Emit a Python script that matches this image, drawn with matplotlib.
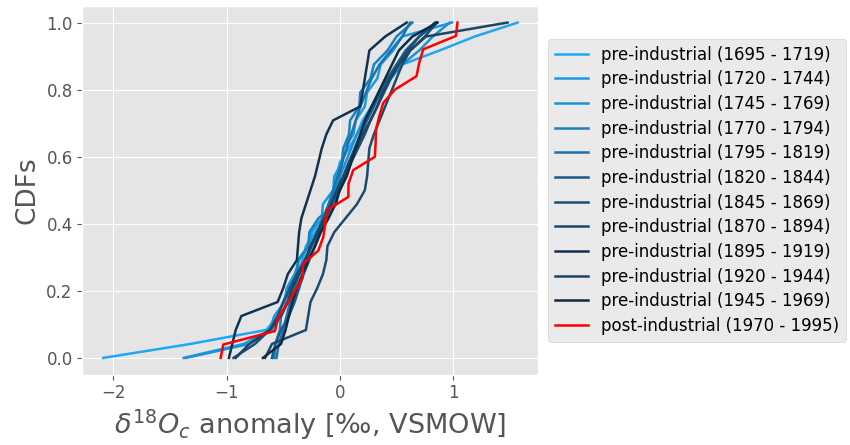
import matplotlib
matplotlib.use("Agg")
import matplotlib.pyplot as plt
from matplotlib.ticker import MultipleLocator
import numpy as np

plt.style.use("ggplot")

# periods and sorted anomaly values
periods = ["1695 - 1719", "1720 - 1744", "1745 - 1769", "1770 - 1794",
           "1795 - 1819", "1820 - 1844", "1845 - 1869", "1870 - 1894",
           "1895 - 1919", "1920 - 1944", "1945 - 1969"]
post_period = "1970 - 1995"

pre_colors = ["#1ea7f2", "#1b9ae0", "#1a92d6", "#1a80c0", "#1a72ae",
              "#1a5a88", "#18507a", "#1c4a6e", "#113350", "#1a4664", "#0c2b45"]

s1695 = [-2.09, -1.32, -0.65, -0.55, -0.50, -0.45, -0.38, -0.33, -0.30, -0.22, -0.13, -0.10,
         -0.05, -0.03, 0.00, 0.08, 0.15, 0.20, 0.28, 0.35, 0.42, 0.55, 0.88, 1.19, 1.57]
s1720 = [-1.38, -0.85, -0.62, -0.58, -0.49, -0.47, -0.40, -0.36, -0.27, -0.25, -0.16, -0.15,
         -0.06, -0.05, 0.02, 0.03, 0.12, 0.14, 0.22, 0.24, 0.33, 0.36, 0.47, 0.55, 0.99]
s1745 = [-1.36, -0.80, -0.60, -0.52, -0.47, -0.42, -0.36, -0.30, -0.25, -0.18, -0.14, -0.09,
         -0.04, 0.00, 0.05, 0.10, 0.15, 0.22, 0.28, 0.36, 0.45, 0.55, 0.70, 0.82, 0.97]
s1770 = [-0.58, -0.57, -0.53, -0.52, -0.46, -0.45, -0.38, -0.37, -0.28, -0.27, -0.19, -0.03,
         -0.02, 0.00, 0.02, 0.03, 0.08, 0.09, 0.17, 0.18, 0.27, 0.30, 0.42, 0.50, 0.64]
s1795 = [-0.56, -0.54, -0.50, -0.47, -0.44, -0.40, -0.36, -0.31, -0.26, -0.20, -0.15, -0.10,
         -0.06, -0.02, 0.02, 0.06, 0.10, 0.14, 0.18, 0.23, 0.28, 0.35, 0.45, 0.55, 0.62]
s1820 = [-0.60, -0.57, -0.52, -0.45, -0.40, -0.36, -0.32, -0.27, -0.22, -0.17, -0.12, -0.07,
         -0.02, 0.03, 0.08, 0.13, 0.18, 0.24, 0.30, 0.36, 0.42, 0.50, 0.58, 0.70, 0.86]
s1845 = [-0.94, -0.75, -0.62, -0.55, -0.50, -0.44, -0.38, -0.31, -0.25, -0.19, -0.13, -0.07,
         -0.01, 0.05, 0.10, 0.16, 0.22, 0.27, 0.33, 0.39, 0.45, 0.52, 0.60, 0.70, 0.84]
s1870 = [-0.66, -0.60, -0.30, -0.28, -0.26, -0.20, -0.15, -0.12, -0.11, -0.05, 0.05, 0.15,
         0.22, 0.24, 0.25, 0.26, 0.30, 0.35, 0.40, 0.45, 0.50, 0.55, 0.62, 0.75, 0.855]
s1895 = [-0.98, -0.95, -0.92, -0.87, -0.55, -0.50, -0.46, -0.38, -0.37, -0.36, -0.34, -0.30,
         -0.26, -0.22, -0.19, -0.16, -0.12, -0.06, 0.18, 0.20, 0.22, 0.24, 0.26, 0.40, 0.59]
s1920 = [-0.92, -0.80, -0.62, -0.52, -0.46, -0.42, -0.36, -0.30, -0.26, -0.20, -0.14, -0.08,
         -0.03, 0.03, 0.08, 0.14, 0.20, 0.27, 0.33, 0.38, 0.44, 0.52, 0.62, 0.76, 1.48]
s1945 = [-0.68, -0.52, -0.48, -0.45, -0.42, -0.38, -0.33, -0.28, -0.22, -0.17, -0.10, -0.04,
         0.00, 0.06, 0.10, 0.14, 0.18, 0.22, 0.28, 0.34, 0.40, 0.46, 0.52, 0.64, 0.86]

s1970 = [-1.053, -1.029, -0.574, -0.544, -0.471, -0.397, -0.329, -0.326, -0.191, -0.147,
         -0.129, -0.118, 0.074, 0.076, 0.118, 0.309, 0.315, 0.318, 0.347, 0.382, 0.485,
         0.676, 0.700, 0.735, 1.024, 1.038]

pre_series = [s1695, s1720, s1745, s1770, s1795, s1820, s1845, s1870, s1895, s1920, s1945]

fig = plt.figure(figsize=(8.5, 4.45), dpi=100)
ax = fig.add_axes([0.097, 0.158, 0.5365, 0.829])

for vals, per, col in zip(pre_series, periods, pre_colors):
    v = np.sort(vals)
    cdf = np.arange(len(v)) / (len(v) - 1)
    ax.plot(v, cdf, color=col, lw=1.8, label=f"pre-industrial ({per})")

v = np.sort(s1970)
ax.plot(v, np.arange(len(v)) / (len(v) - 1), color="red", lw=1.8,
        label=f"post-industrial ({post_period})")

ax.xaxis.set_major_locator(MultipleLocator(1))
ax.set_ylabel("CDFs", fontsize=19)
ax.set_xlabel(r"$\delta^{18}O_c$ anomaly [‰, VSMOW]", fontsize=19.5)
ax.tick_params(labelsize=12)
ax.legend(loc="center left", bbox_to_anchor=(1.01, 0.5), fontsize=12,
          labelspacing=0.4, borderaxespad=0.3)

fig.savefig("out.png", dpi=100)
